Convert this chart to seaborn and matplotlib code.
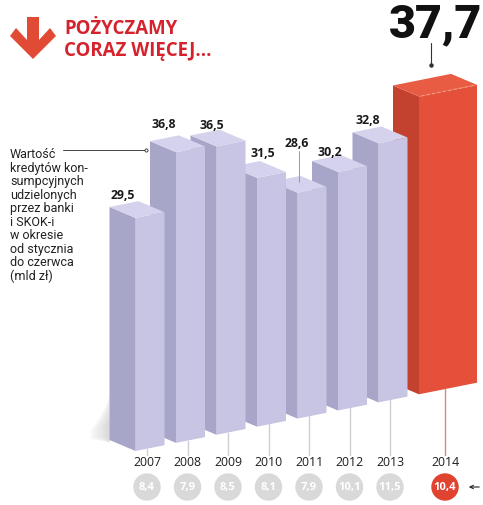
import numpy as np
import pandas as pd
import seaborn as sns
import matplotlib.pyplot as plt
import matplotlib.transforms as mtransforms
from matplotlib.patches import Polygon

# dane
years = ['2007', '2008', '2009', '2010', '2011', '2012', '2013', '2014']
values = [29.5, 36.8, 36.5, 31.5, 28.6, 30.2, 32.8, 37.7]
value_labels = ['29,5', '36,8', '36,5', '31,5', '28,6', '30,2', '32,8', '37,7']
circle_values = ['8,4', '7,9', '8,5', '8,1', '7,9', '10,1', '11,5', '10,4']
title = ['POŻYCZAMY', 'CORAZ WIĘCEJ...']
note = ['Wartość', 'kredytów kon-', 'sumpcyjnych', 'udzielonych', 'przez banki',
        'i SKOK-i', 'w okresie', 'od stycznia', 'do czerwca', '(mld zł)']

# przesuniecia etykiet (px: prawo, gora<0)
label_nudge = [(-1, -10), (-1, -15), (7, -8), (17, -11), (11, -36), (3, -7), (1, -10)]

W, H = 483, 506
sns.set_theme(style='white')
plt.rcParams['font.family'] = ['Open Sans', 'DejaVu Sans']

fig = plt.figure(figsize=(W / 100, H / 100), dpi=100)
ax = fig.add_axes([0, 0, 1, 1])

X0, SX = 150, 40.5    # px kategorii 0, px na kategorie
Y0, SY = 449.1, 7.9   # px (od gory) wartosci 0, px na jednostke
SLOPE = 0.2
c = SLOPE * SX / SY


def dx(X):
    return (X - X0) / SX


def dy(Y):
    return (Y0 - Y) / SY


shear = mtransforms.Affine2D(np.array([[1, 0, 0], [c, 1, 0], [0, 0, 1]]))
tr = shear + ax.transData

DX = -26 / SX
DY = 11 / SY - c * DX

front_c = ['#c7c5e3'] * 7 + ['#e4503a']
side_c = ['#a7a5c8'] * 7 + ['#c3422f']
top_c = ['#d4d2ec'] * 7 + ['#e75c42']

df = pd.DataFrame({'year': years, 'value': values})
sns.barplot(data=df, x='year', y='value', hue='year', palette=front_c,
            width=29 / SX, errorbar=None, legend=False, saturation=1, ax=ax)

bars = sorted(ax.patches, key=lambda p: p.get_x())
geo = []
for i, (p, v) in enumerate(zip(bars, values)):
    if i == 7:
        p.set_width(58 / SX)
    p.set_transform(tr)
    p.set_zorder(30 - i)
    p.set_edgecolor('none')
    xl = p.get_x()
    xr = xl + p.get_width()
    ax.add_patch(Polygon([(xl, 0), (xl, v), (xl + DX, v + DY), (xl + DX, DY)],
                         closed=True, fc=side_c[i], ec='none', transform=tr, zorder=30 - i))
    ax.add_patch(Polygon([(xl, v), (xr, v), (xr + DX, v + DY), (xl + DX, v + DY)],
                         closed=True, fc=top_c[i], ec='none', transform=tr, zorder=30 - i))
    geo.append((xl, xr, v))

# przerywana linia na czerwonym slupku
xl, xr, v = geo[7]
ax.plot([xl + 0.05, xr - 0.05], [v, v], transform=tr, color='#f49a80', lw=0.8,
        ls=(0, (3, 2)), zorder=31)

# miekki cien z lewej strony pierwszego slupka
xe = geo[0][0] + DX
for k in range(1, 13):
    w = k * 1.6 / SX
    h = 6.5 - k * 0.35
    ax.add_patch(Polygon([(xe, DY - 0.3), (xe, DY + h), (xe - w, DY + h * 0.75),
                          (xe - w, DY + 0.6)],
                         closed=True, fc='#8a8a8a', alpha=0.028, ec='none',
                         transform=tr, zorder=5))

# etykiety wartosci
for i in range(7):
    xl, xr, v = geo[i]
    xc = (xl + xr) / 2 + DX
    yc = v + DY + c * xc
    nx, ny = label_nudge[i]
    lx = xc + nx / SX
    ly = yc - ny / SY
    ax.text(lx, ly, value_labels[i], ha='center', va='center', fontsize=8.8,
            fontweight='bold', color='#1a1a1a', zorder=40)
    if i == 4:
        ax.plot([lx + 1.5 / SX] * 2, [ly - 8 / SY, yc - 3 / SY], color='#9a9a9a',
                lw=0.7, zorder=40)

# duza etykieta 2014
xl, xr, v = geo[7]
xc = (xl + xr) / 2 + DX
yc = v + DY + c * xc
bx = xc + 9 / SX
ax.plot([bx, bx], [yc + 15 / SY, yc + 37 / SY], color='#333333', lw=0.8, zorder=40)
ax.plot([bx], [yc + 15 / SY], 'o', ms=2.2, color='#333333', zorder=40)
ax.text(bx + 4 / SX, dy(24), value_labels[7], ha='center', va='center', fontsize=33.5,
        fontweight='heavy', color='#111111',
        family=['Liberation Sans Narrow', 'Roboto', 'DejaVu Sans'], zorder=40)

# linie pionowe, lata, kolka
for i, (xl, xr, v) in enumerate(geo):
    xm = (xl + xr) / 2 - 3 / SX
    ax.plot([xm, xm], [c * xm, dy(456)], color='#d08a80' if i == 7 else '#cfcfd6',
            lw=1.0, zorder=2)
    ax.text(xm, dy(463), years[i], ha='center', va='center', fontsize=8.8,
            color='#1e1e1e', zorder=40)
    ax.scatter([xm], [dy(488)], s=390, color='#e0432f' if i == 7 else '#d9d9d9',
               edgecolors='none', zorder=40)
    ax.text(xm, dy(488), circle_values[i], ha='center', va='center', fontsize=8,
            fontweight='bold', color='white', zorder=41)

ax.annotate('', xy=(dx(466), dy(488)), xytext=(dx(482), dy(488)),
            arrowprops=dict(arrowstyle='->', lw=0.8, color='#222222',
                            mutation_scale=6), zorder=40)

# opis z lewej
for k, line in enumerate(note):
    ax.text(dx(10), dy(155 + 13.5 * k), line, ha='left', va='center', fontsize=9,
            color='#222222', family=['Roboto', 'DejaVu Sans'], zorder=40)
ax.plot([dx(63), dx(146)], [dy(151), dy(151)], color='#444444', lw=0.7, zorder=40)
ax.plot([dx(146)], [dy(151)], 'o', ms=2.2, mfc='white', mec='#444444', mew=0.7, zorder=40)

# tytul i strzalka
ax.text(dx(64), dy(29), title[0], ha='left', va='center', fontsize=13.4,
        fontweight='bold', color='#d5232d', zorder=40)
ax.text(dx(64), dy(51), title[1], ha='left', va='center', fontsize=13.4,
        fontweight='bold', color='#d5232d', zorder=40)
arrow = [(27, 18), (39, 18), (39, 41), (50, 29), (56, 37), (33, 60), (10, 37), (16, 29), (27, 41)]
ax.add_patch(Polygon([(dx(a), dy(b)) for a, b in arrow], closed=True, fc='#e14b35',
                     ec='none', zorder=40))

ax.set_xlim(dx(0), dx(W))
ax.set_ylim(dy(H), dy(0))
ax.axis('off')

fig.savefig('out.png', dpi=100, facecolor='white')
